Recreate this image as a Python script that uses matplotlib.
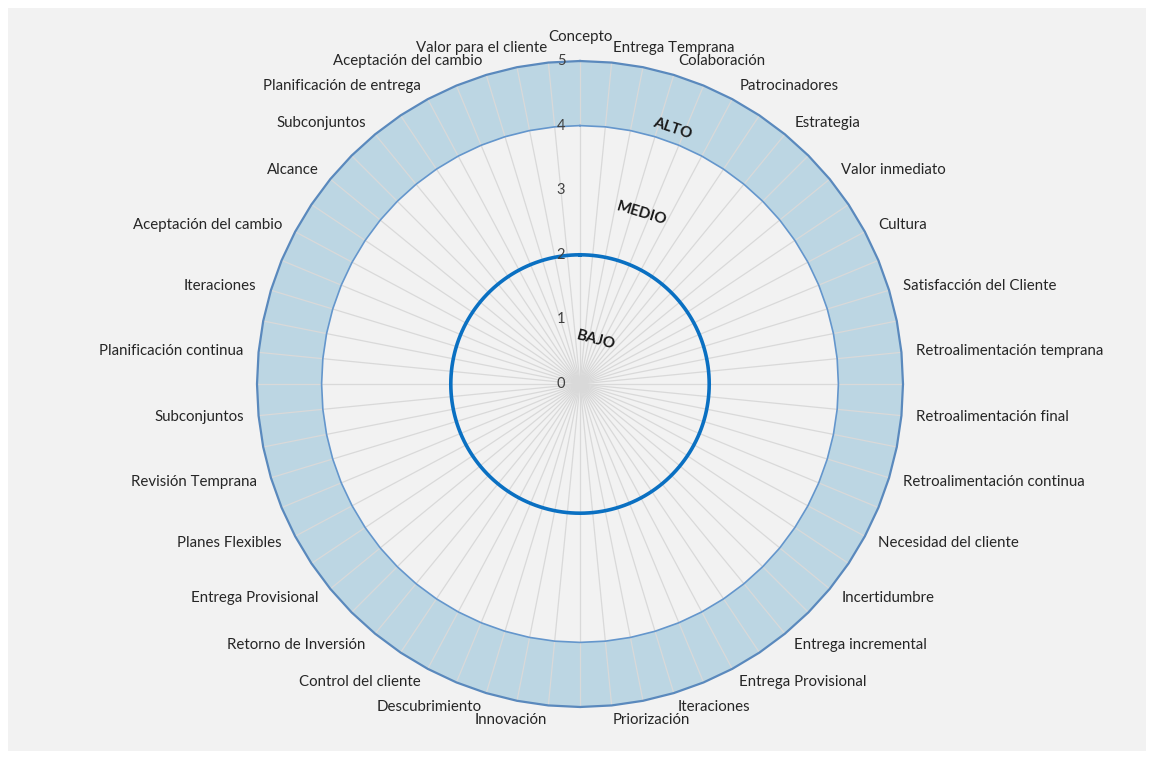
import numpy as np
import matplotlib.pyplot as plt
from matplotlib.patches import Rectangle

plt.rcParams['font.family'] = ['Lato', 'DejaVu Sans']

# 64 radios en el radar; el primero y los impares llevan nombre
n_radios = 64
etiqueta_superior = 'Concepto'
etiquetas = [
    'Entrega Temprana', 'Colaboración', 'Patrocinadores', 'Estrategia',
    'Valor inmediato', 'Cultura', 'Satisfacción del Cliente',
    'Retroalimentación temprana', 'Retroalimentación final',
    'Retroalimentación continua', 'Necesidad del cliente', 'Incertidumbre',
    'Entrega incremental', 'Entrega Provisional', 'Iteraciones', 'Priorización',
    'Innovación', 'Descubrimiento', 'Control del cliente', 'Retorno de Inversión',
    'Entrega Provisional', 'Planes Flexibles', 'Revisión Temprana', 'Subconjuntos',
    'Planificación continua', 'Iteraciones', 'Aceptación del cambio', 'Alcance',
    'Subconjuntos', 'Planificación de entrega', 'Aceptación del cambio',
    'Valor para el cliente',
]
categorias = [''] * n_radios
categorias[0] = etiqueta_superior
categorias[1::2] = etiquetas

limite_exterior = [5] * n_radios
limite_alto = [4] * n_radios
limite_bajo = 2
escala = [0, 1, 2, 3, 4, 5]
zonas = ['ALTO', 'MEDIO', 'BAJO']

W, H = 1149, 758
fig = plt.figure(figsize=(W / 100, H / 100), dpi=100)
fig.patch.set_facecolor('white')
fig.add_artist(Rectangle((8 / W, 7 / H), 1138 / W, 743 / H, transform=fig.transFigure,
                         facecolor='#F2F2F2', edgecolor='none', zorder=0))

# centro en (580, 384) px, radio 5 -> 323 px
ax = fig.add_axes([257 / W, 51 / H, 646 / W, 646 / H], projection='polar')
ax.set_theta_zero_location('N')
ax.set_theta_direction(-1)
ax.set_facecolor('none')
ax.spines['polar'].set_visible(False)
ax.grid(False)
ax.set_xticks([])
ax.set_yticks([])
ax.set_ylim(0, 5)

theta = np.arange(n_radios) * 2 * np.pi / n_radios
tc = np.append(theta, theta[0])
ext = limite_exterior + limite_exterior[:1]
alto = limite_alto + limite_alto[:1]

ax.fill(tc, ext, facecolor='#BCD6E3', edgecolor='none', zorder=1, clip_on=False)
ax.fill(tc, alto, facecolor='#F2F2F2', edgecolor='none', zorder=2, clip_on=False)
for t in theta:
    ax.plot([t, t], [0, 5], color='#D9D9D9', lw=0.9, zorder=3, clip_on=False)
ax.plot(tc, ext, color='#5A89BD', lw=1.6, zorder=4, clip_on=False)
ax.plot(tc, alto, color='#6496CC', lw=1.2, zorder=4, clip_on=False)

circ = np.linspace(0, 2 * np.pi, 361)
ax.plot(circ, np.full(circ.size, limite_bajo), color='#0A70C2', lw=2.6, zorder=5)

for v in escala:
    ax.annotate(str(v), xy=(0, v), xytext=(-19, 0), textcoords='offset pixels',
                ha='center', va='center', fontsize=10.5, color='#404040', zorder=6)

for t, nombre in zip(theta, categorias):
    if not nombre:
        continue
    if t == 0:
        ax.text(t, 5.37, nombre, ha='center', va='center', fontsize=10.8, color='#262626')
    else:
        ha = 'left' if t < np.pi else 'right'
        ax.text(t, 5.23, nombre, ha=ha, va='center', fontsize=10.8, color='#262626')

# rótulos de zona colocados a mano, como en la hoja original
for texto, r, rot in zip(zonas, [4.2, 2.8, 0.72], [-18.4, -16.7, -14.9]):
    ax.text(np.radians(19.8), r, texto, rotation=rot, rotation_mode='anchor',
            ha='center', va='center', fontsize=11, fontweight='bold', color='#1A1A1A',
            zorder=6)

fig.savefig('out.png', dpi=100, facecolor=fig.get_facecolor())
